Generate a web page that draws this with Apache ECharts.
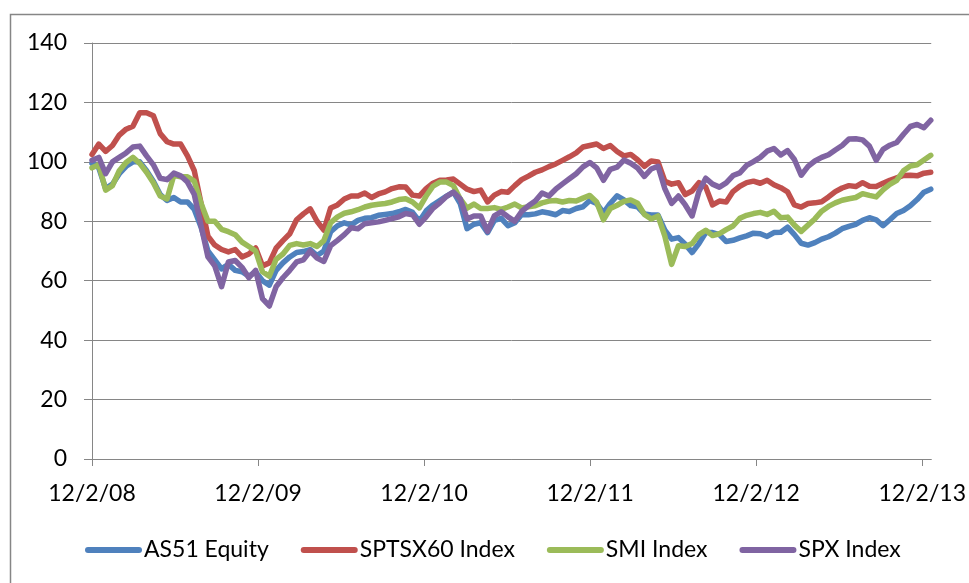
<!DOCTYPE html>
<html>
<head>
<meta charset="utf-8">
<title>Index comparison</title>
<script src="https://cdn.jsdelivr.net/npm/echarts@6/dist/echarts.min.js"></script>
<style>
  html, body { margin: 0; padding: 0; background: #fff; }
  #chart { width: 969px; height: 583px; }
</style>
</head>
<body>
<div id="chart"></div>
<script>
// samples every 15 days from 12/2/08
const STEP_DAYS = 15
const DAYS_PER_YEAR = 365.25

const seriesNames = ["AS51 Equity", "SPTSX60 Index", "SMI Index", "SPX Index"]
const tickLabels = ["12/2/08", "12/2/09", "12/2/10", "12/2/11", "12/2/12", "12/2/13"]
const yTicks = [0, 20, 40, 60, 80, 100, 120, 140]

const as51 = [
  99.5, 98, 91, 92.5, 96, 98.5, 100, 100, 97, 93.5,
  89, 87, 88, 86.5, 86.5, 84, 78, 70, 67, 64,
  65.5, 63.5, 63, 61.5, 63, 60, 58.5, 63.5, 66, 68,
  69.5, 69.8, 70.5, 68.5, 70, 76.5, 78.5, 79.5, 78.8, 80.3,
  81, 81.2, 82, 82.3, 82.6, 83.2, 84, 83, 80, 83.5,
  85.5, 87, 88.5, 89.8, 86, 77.5, 79, 79.5, 76.2, 80.3,
  81, 78.5, 79.5, 82.3, 82.2, 82.5, 83.2, 82.8, 82.2, 83.6,
  83.3, 84.3, 84.9, 87, 86, 82.8, 86, 88.6, 87.2, 85.3,
  84.9, 82.5, 82.1, 82.1, 77, 74, 74.5, 72.3, 69.5, 72.5,
  76.2, 76.2, 75.5, 73.2, 73.6, 74.4, 75.1, 76, 75.8, 74.9,
  76.2, 76.3, 78, 75.5, 72.6, 72, 72.8, 74, 74.8, 76,
  77.5, 78.3, 79, 80.3, 81.2, 80.5, 78.5, 80.5, 82.6, 83.6,
  85.2, 87.3, 89.8, 90.8
]

const sptsx60 = [
  102.5, 106, 103.5, 105.5, 109, 111, 112, 116.5, 116.5, 115.5,
  109.5, 106.8, 106, 106, 102, 97, 86, 75, 72, 70.5,
  69.7, 70.5, 68, 69, 71, 65, 66, 71, 73.5, 75.8,
  80.5, 82.5, 84.2, 80, 77, 84.5, 85.5, 87.5, 88.5, 88.5,
  89.5, 88, 89.2, 89.9, 91, 91.6, 91.5, 88.8, 88.5, 91,
  92.8, 93.8, 93.9, 94.2, 92.5, 90.8, 90, 90.5, 86.5, 88.8,
  90, 89.8, 92, 94, 95.2, 96.5, 97.3, 98.4, 99.3, 100.5,
  101.7, 103, 105, 105.5, 106, 104.5, 105.5, 103.5, 102, 102.5,
  100.7, 98.5, 100.3, 100, 93.5, 92.5, 93, 89, 90.2, 93,
  91.5, 85.5, 86.8, 86.5, 90, 91.8, 93, 93.5, 92.8, 93.8,
  92.3, 91.3, 89.9, 85.5, 84.8, 86, 86.2, 86.6, 88.2, 90,
  91.2, 92, 91.7, 93, 91.8, 91.7, 92.8, 93.8, 94.6, 95.4,
  95.5, 95.3, 96.2, 96.5
]

const smi = [
  98, 99, 90.5, 92, 97, 99.8, 101.5, 99.5, 96.5, 93,
  88.5, 87.5, 95.5, 95, 95, 93.5, 86, 80, 80, 77.3,
  76.5, 75.5, 73, 71.5, 70, 63, 61.5, 67.2, 69, 71.9,
  72.5, 72, 72.5, 71.5, 73.5, 79.5, 81.5, 82.7, 83.2, 83.9,
  84.8, 85.4, 85.7, 86, 86.5, 87.3, 87.6, 86.5, 84.5, 88.5,
  91.8, 93.2, 93.2, 92, 87.5, 84.4, 85.8, 84.3, 84.3, 84.6,
  84, 84.8, 85.8, 84.5, 84.9, 85.2, 86.2, 86.8, 87, 86.5,
  87, 86.8, 87.8, 88.7, 86.5, 80.5, 84.3, 85.4, 86.7, 87.2,
  86.1, 82.3, 80.8, 81.8, 75, 65.5, 71.8, 71.5, 72.5, 75.5,
  77, 75.2, 75.8, 77.2, 78.4, 81, 82, 82.6, 83, 82.3,
  83.4, 81.2, 81.4, 78.7, 76.6, 78.7, 80.8, 83.4, 85, 86.2,
  87.1, 87.6, 88, 89.3, 88.7, 88.2, 90.6, 92.4, 93.8, 97,
  98.6, 99, 100.6, 102.2
]

const spx = [
  100.5, 101.5, 96, 100, 101.5, 103, 105, 105.3, 102, 99,
  94.5, 94, 96.2, 95.3, 93.2, 89, 78.5, 68, 65, 58,
  66.3, 66.8, 64.5, 61, 63.5, 54, 51.5, 58, 61, 63.5,
  66.3, 67, 70, 67.6, 66.5, 71.8, 73.6, 75.5, 77.8, 77.5,
  79.2, 79.5, 79.8, 80.3, 80.9, 81.5, 82.6, 82.2, 79, 81.5,
  84.4, 86.2, 88.4, 89.8, 87.5, 80.8, 81.8, 81.8, 76.6, 81.8,
  83.2, 81.5, 80, 83.3, 85.2, 86.8, 89.5, 88.5, 90.8, 92.6,
  94.3, 96, 98.3, 99.8, 98, 93.8, 97.5, 98.2, 100.6, 99.5,
  97.9, 95.1, 97.6, 98.5, 91, 86, 88.5, 85.5, 81.8, 90,
  94.5, 92.5, 91.5, 92.9, 95.4, 96.3, 98.8, 100.1, 101.5, 103.6,
  104.5, 102.3, 103.8, 100.8, 95.5, 98.5, 100.3, 101.5, 102.4, 104,
  105.5, 107.7, 107.8, 107.4, 105.3, 100.5, 104.2, 105.6, 106.5, 109.3,
  111.9, 112.6, 111.5, 114
]

const colors = ["#4F81BD", "#C0504D", "#9BBB59", "#8064A2"]
const values = [as51, sptsx60, smi, spx]

const FONT = "Lato"
const FONT_SIZE = 23
const GRID_GREY = "#868686"

const chart = echarts.init(document.getElementById("chart"), null, { renderer: "canvas" })

const toPoints = (arr) => arr.map((v, i) => [i * STEP_DAYS, v])
const yearTicks = tickLabels.map((_, i) => i * DAYS_PER_YEAR)

const option = {
  animation: false,
  color: colors,
  textStyle: { fontFamily: FONT },
  grid: { left: 92, right: 29, top: 43, bottom: 124 },
  graphic: [
    {
      type: "rect",
      shape: { x: 10.5, y: 14.5, width: 2000, height: 2000 },
      style: { fill: "none", stroke: GRID_GREY, lineWidth: 1.5 },
      silent: true,
    },
  ],
  legend: {
    data: seriesNames,
    left: 85,
    top: 537,
    padding: 0,
    itemWidth: 57,
    itemHeight: 6,
    itemGap: 32,
    icon: "path://M3,0 L54,0 A3,3 0 0 1 54,6 L3,6 A3,3 0 0 1 3,0 Z",
    textStyle: { fontFamily: FONT, fontSize: FONT_SIZE, color: "#000", lineHeight: 26, padding: [0, 0, 0, -3] },
  },
  xAxis: {
    type: "value",
    min: 0,
    max: 1846,
    interval: DAYS_PER_YEAR,
    axisLine: { show: true, lineStyle: { color: GRID_GREY, width: 1 } },
    axisTick: { show: true, length: 7, customValues: yearTicks, lineStyle: { color: GRID_GREY } },
    splitLine: { show: false },
    axisLabel: {
      margin: 23,
      fontFamily: FONT,
      fontSize: FONT_SIZE,
      color: "#000",
      customValues: yearTicks,
      formatter: (v) => {
        const i = Math.round(v / DAYS_PER_YEAR)
        return Math.abs(v - i * DAYS_PER_YEAR) < 1 ? tickLabels[i] : ""
      },
    },
  },
  yAxis: {
    type: "value",
    min: yTicks[0],
    max: yTicks[yTicks.length - 1],
    interval: yTicks[1] - yTicks[0],
    axisLine: { show: true, lineStyle: { color: GRID_GREY, width: 1 } },
    axisTick: { show: true, length: 8, lineStyle: { color: GRID_GREY } },
    splitLine: { show: true, lineStyle: { color: GRID_GREY, width: 1 } },
    axisLabel: { margin: 25, fontFamily: FONT, fontSize: FONT_SIZE, color: "#000" },
  },
  series: seriesNames.map((name, idx) => ({
    name,
    type: "line",
    data: toPoints(values[idx]),
    showSymbol: false,
    symbol: "none",
    lineStyle: { width: 5.5, color: colors[idx], cap: "round", join: "round" },
    itemStyle: { color: colors[idx] },
  })),
}

chart.setOption(option)
</script>
</body>
</html>
